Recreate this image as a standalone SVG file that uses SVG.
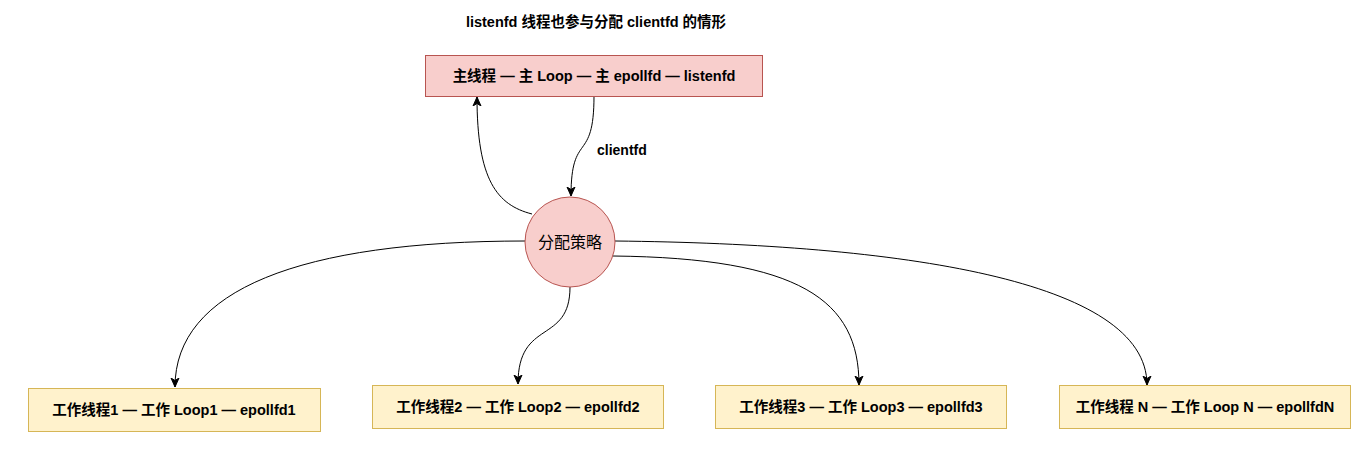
<svg xmlns="http://www.w3.org/2000/svg" width="1365" height="452" viewBox="0 0 1365 452">
<defs>
<style>
text{font-family:"Liberation Sans","Noto Sans CJK SC",sans-serif;font-size:14.5px;fill:#000;text-anchor:middle;dominant-baseline:central}
.b{font-weight:bold}
.red{fill:#f8cecc;stroke:#b85450;stroke-width:1}
.yel{fill:#fff2cc;stroke:#d6b656;stroke-width:1}
.e{fill:none;stroke:#000;stroke-width:1;marker-end:url(#ah)}
</style>
<marker id="ah" viewBox="0 0 10 10" refX="9" refY="5" markerWidth="10" markerHeight="10" markerUnits="userSpaceOnUse" orient="auto">
<path d="M0,1 L9,5 L0,9 L2.5,5 Z" fill="#000" stroke="#000" stroke-width="1"/>
</marker>
</defs>
<rect width="1365" height="452" fill="#fff"/>
<text class="b" x="596" y="22">listenfd 线程也参与分配 clientfd 的情形</text>
<g id="connectors">
<path class="e" d="M532 214 C497 205 477 180 477 97"/>
<path class="e" d="M594 96 C594 165 571 130 571 196"/>
<path class="e" d="M525 241 C300 241 175 290 175 387"/>
<path class="e" d="M570 287 C570 345 518 318 518 384"/>
<path class="e" d="M613 256 C800 258 859 300 859 385"/>
<path class="e" d="M615 241 C900 244 1147 280 1147 385"/>
<text class="b" x="597" y="150" style="text-anchor:start;font-size:14px">clientfd</text>
</g>
<g id="main"><rect class="red" x="425.5" y="55.5" width="337" height="41"/><text class="b" x="594" y="76">主线程 — 主 Loop — 主 epollfd — listenfd</text></g>
<g id="strategy"><circle class="red" cx="570" cy="242" r="45"/><text x="570" y="242" style="font-size:16px">分配策略</text></g>
<g id="w1"><rect class="yel" x="28.5" y="388.5" width="292" height="43"/><text class="b" x="174" y="410">工作线程1 — 工作 Loop1 — epollfd1</text></g>
<g id="w2"><rect class="yel" x="372.5" y="385.5" width="291" height="43"/><text class="b" x="518" y="407">工作线程2 — 工作 Loop2 — epollfd2</text></g>
<g id="w3"><rect class="yel" x="715.5" y="385.5" width="291" height="43"/><text class="b" x="861" y="407">工作线程3 — 工作 Loop3 — epollfd3</text></g>
<g id="wn"><rect class="yel" x="1059.5" y="385.5" width="291" height="43"/><text class="b" x="1205" y="407">工作线程 N — 工作 Loop N — epollfdN</text></g>
</svg>
